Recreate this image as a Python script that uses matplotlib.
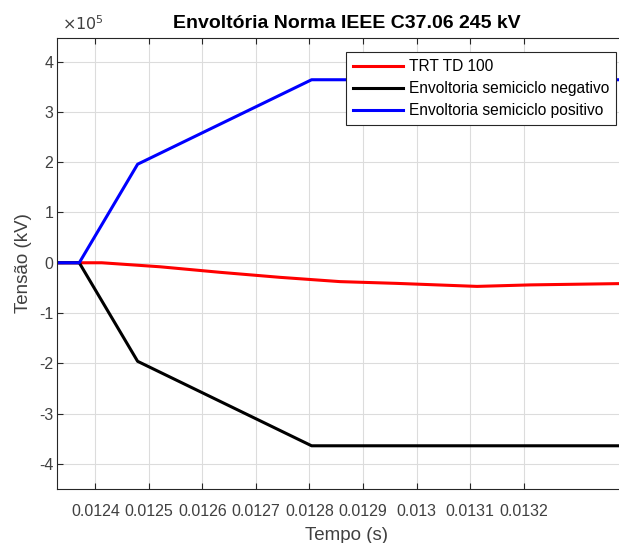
import matplotlib.pyplot as plt
from matplotlib.ticker import FuncFormatter

plt.rcParams['font.family'] = ['Liberation Sans', 'DejaVu Sans']

# tempo (s) e tensao (V)
t_trt = [0.01233, 0.01237, 0.012412, 0.012521, 0.012633, 0.012745, 0.012857,
         0.012963, 0.013113, 0.013213, 0.01341]
v_trt = [0, 0, 0, -0.08e5, -0.19e5, -0.29e5, -0.375e5, -0.41e5, -0.47e5, -0.44e5, -0.41e5]

t_env = [0.01233, 0.01237, 0.012479, 0.012804, 0.01341]
v_pos = [0, 0, 1.96e5, 3.64e5, 3.64e5]
v_neg = [0, 0, -1.96e5, -3.64e5, -3.64e5]

xticks = [0.0124, 0.0125, 0.0126, 0.0127, 0.0128, 0.0129, 0.013, 0.0131, 0.0132]
xlabels = ['0.0124', '0.0125', '0.0126', '0.0127', '0.0128', '0.0129', '0.013', '0.0131', '0.0132']

fig = plt.figure(figsize=(6.19, 5.43), dpi=100)
# the axes runs a bit past the right edge of the picture, as in the reference
ax = fig.add_axes([0.0926, 0.0994, 0.934, 0.8306])

ax.plot(t_trt, v_trt, color='#ff0000', lw=2.2, label='TRT TD 100')
ax.plot(t_env, v_neg, color='black', lw=2.2, label='Envoltoria semiciclo negativo')
ax.plot(t_env, v_pos, color='#0000ff', lw=2.2, label='Envoltoria semiciclo positivo')

ax.set_xlim(0.012329, 0.013409)
ax.set_ylim(-4.5e5, 4.47e5)
ax.set_xticks(xticks)
ax.set_xticklabels(xlabels)
ax.set_yticks([-4e5, -3e5, -2e5, -1e5, 0, 1e5, 2e5, 3e5, 4e5])
ax.yaxis.set_major_formatter(FuncFormatter(lambda v, p: '%g' % (v / 1e5)))

ax.grid(True, color='#dcdcdc', lw=0.8)
ax.set_axisbelow(True)
ax.tick_params(direction='in', top=True, right=False, length=4, labelsize=11.5,
               labelcolor='#404040', color='#262626')
ax.tick_params(axis='x', pad=11)
ax.tick_params(axis='y', pad=3)
for s in ['left', 'bottom', 'top']:
    ax.spines[s].set_color('#262626')
ax.spines['right'].set_visible(False)

ax.set_xlabel('Tempo (s)', fontsize=13.5, color='#404040')
ax.xaxis.set_label_coords(0.5, -0.102)
ax.xaxis.label.set_va('center')
ax.set_ylabel('Tensão (kV)', fontsize=13.5, color='#404040')
ax.yaxis.set_label_coords(-0.059, 0.5)
ax.yaxis.label.set_va('center')
ax.set_title('Envoltória Norma IEEE C37.06 245 kV', fontsize=14, fontweight='bold', pad=7)
ax.text(0.008, 1.011, r'$\times10^5$', transform=ax.transAxes, fontsize=11.5, color='#404040',
        ha='left', va='bottom')

leg = ax.legend(loc='upper right', bbox_to_anchor=(0.967, 0.969), fontsize=11.2,
                fancybox=False, framealpha=1, edgecolor='#262626', handlelength=3.2,
                borderpad=0.45, labelspacing=0.45, handletextpad=0.4, borderaxespad=0)
leg.get_frame().set_linewidth(0.8)

fig.savefig('out.png', dpi=100)
